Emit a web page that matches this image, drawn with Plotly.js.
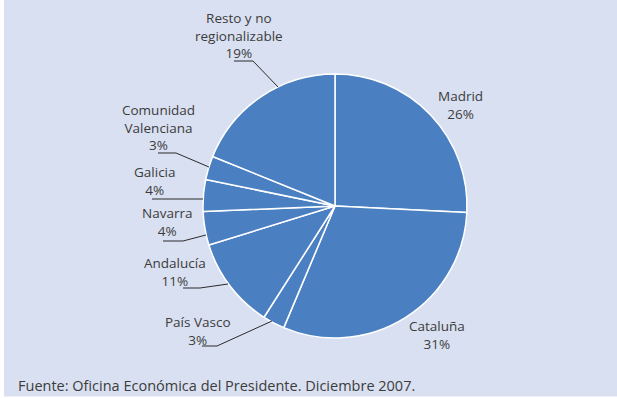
<!DOCTYPE html>
<html>
<head>
<meta charset="utf-8">
<script src="https://cdn.plot.ly/plotly-3.0.1.min.js"></script>
<style>html,body{margin:0;padding:0;background:#fff;}#chart{width:617px;height:398px;}</style>
</head>
<body>
<div id="chart"></div>
<script>
// Data (clockwise from 12 o'clock)
var labels = ['Madrid', 'Cataluña', 'País Vasco', 'Andalucía', 'Navarra', 'Galicia', 'Comunidad Valenciana', 'Resto y no regionalizable'];
var displayLabels = ['Madrid', 'Cataluña', 'País Vasco', 'Andalucía', 'Navarra', 'Galicia', 'Comunidad<br>Valenciana', 'Resto y no<br>regionalizable'];
var values = [25.8, 30.6, 2.7, 11.2, 4.1, 3.9, 2.9, 18.9];
var sourceText = 'Fuente: Oficina Económica del Presidente. Diciembre 2007.';

// Layout helpers (pixel -> paper)
var W = 617, H = 398;
function px(x) { return x / W; }
function py(y) { return 1 - y / H; }

// Label positions (pixel centers) — layout only
var labelPos = [[460, 104.5], [437, 334.5], [197.5, 331], [175, 272], [166.5, 222.5], [155, 181], [158.5, 127], [238.5, 35.5]];
// Leader lines (pixel polylines) — layout only
var leaders = [
  null, null,
  [[202, 346], [217, 346], [272, 321]],
  [[183, 288], [200, 288], [228, 284]],
  [[163, 241], [183, 241], [206, 235]],
  [[152, 199], [203, 199]],
  [[158, 153], [176, 153], [209, 167]],
  [[234, 61], [253, 61], [278, 87]]
];

var total = values.reduce(function (a, b) { return a + b; }, 0);
var font = {family: 'Open Sans, Noto Sans, sans-serif', size: 13.5, color: '#3c3c3c'};

var annotations = labels.map(function (l, i) {
  return {
    xref: 'paper', yref: 'paper', x: px(labelPos[i][0]), y: py(labelPos[i][1]),
    xanchor: 'center', yanchor: 'middle', showarrow: false, borderpad: 0,
    text: displayLabels[i] + '<br>' + Math.round(values[i] / total * 100) + '%',
    font: font
  };
});
annotations.push({
  xref: 'paper', yref: 'paper', x: px(17), y: py(385), xanchor: 'left', yanchor: 'middle',
  showarrow: false, borderpad: 0, text: sourceText,
  font: {family: 'Open Sans, Noto Sans, sans-serif', size: 14.5, color: '#3c3c3c'}
});

var shapes = [
  {type: 'rect', xref: 'paper', yref: 'paper', x0: 0, x1: px(4), y0: 0, y1: 1, fillcolor: '#ffffff', line: {width: 0}, layer: 'above'},
  {type: 'rect', xref: 'paper', yref: 'paper', x0: 0, x1: 1, y0: 0, y1: py(396.5), fillcolor: '#ffffff', line: {width: 0}, layer: 'above'}
];
leaders.forEach(function (pts) {
  if (!pts) return;
  var d = pts.map(function (p, k) { return (k ? 'L' : 'M') + px(p[0]).toFixed(5) + ',' + py(p[1]).toFixed(5); }).join(' ');
  shapes.push({type: 'path', xref: 'paper', yref: 'paper', path: d, line: {color: '#2b2b2b', width: 1}, layer: 'above'});
});

var trace = {
  type: 'pie',
  labels: labels,
  values: values,
  sort: false,
  direction: 'clockwise',
  rotation: 0,
  textinfo: 'none',
  hoverinfo: 'label+percent',
  marker: {colors: labels.map(function () { return '#4a80c2'; }), line: {color: '#ffffff', width: 1.5}},
  domain: {x: [px(203), px(467)], y: [py(338), py(74)]},
  showlegend: false
};

var layout = {
  width: W, height: H,
  margin: {l: 0, r: 0, t: 0, b: 0},
  paper_bgcolor: '#d9e0f1',
  showlegend: false,
  annotations: annotations,
  shapes: shapes
};

Plotly.newPlot('chart', [trace], layout, {displayModeBar: false, staticPlot: true});
</script>
</body>
</html>
